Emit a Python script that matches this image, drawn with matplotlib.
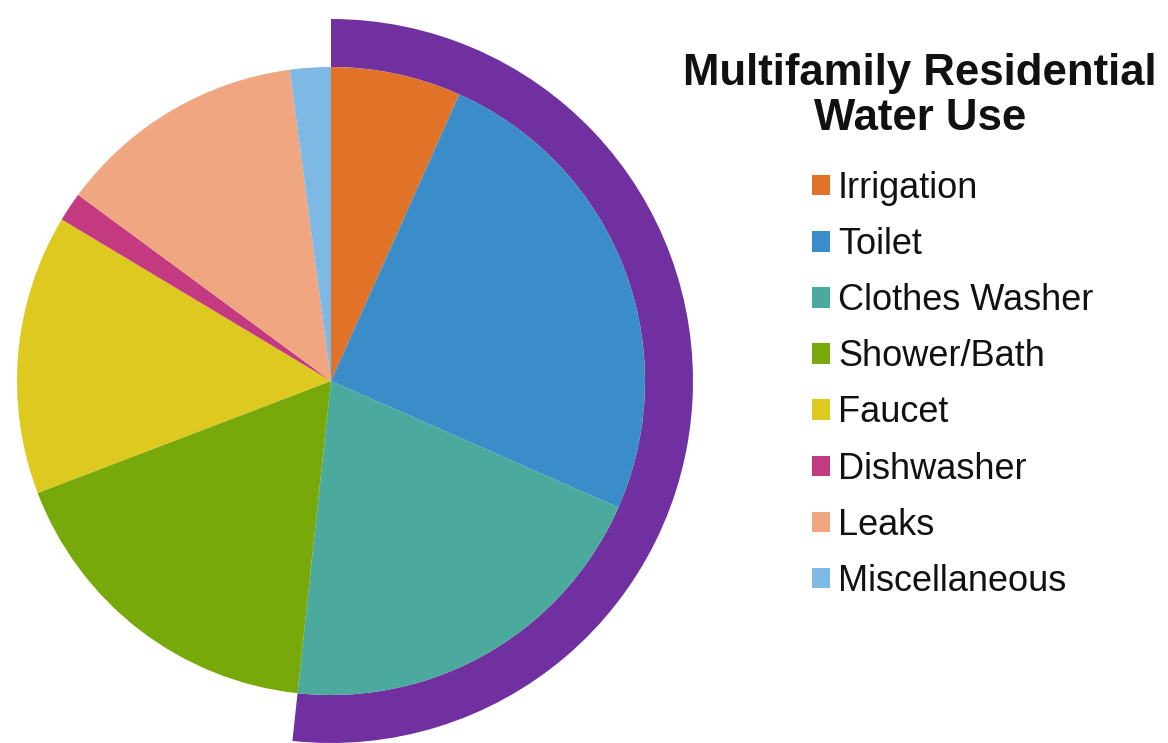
import matplotlib
matplotlib.use("Agg")
import matplotlib.pyplot as plt
from matplotlib.patches import Patch

categories = ["Irrigation", "Toilet", "Clothes Washer", "Shower/Bath",
              "Faucet", "Dishwasher", "Leaks", "Miscellaneous"]
values = [6.7, 24.9, 20.1, 17.5, 14.4, 1.5, 12.8, 2.1]
colors = ["#E07328", "#3A8DC8", "#4BA99E", "#78A90B",
          "#DDC920", "#C33A80", "#F0A680", "#7DB9E4"]
highlight_count = 3  # Irrigation, Toilet, Clothes Washer wrapped by the purple arc
ring_color = "#7130A0"
title = "Multifamily Residential\nWater Use"

W, H = 1168, 743
fig = plt.figure(figsize=(W / 100, H / 100), dpi=100)
ax = fig.add_axes([0, 0, 1, 1])
ax.set_xlim(0, W)
ax.set_ylim(0, H)
ax.set_aspect("equal")
ax.axis("off")

cx, cy = 331, H - 381
r_in, r_out = 314, 362

highlight = sum(values[:highlight_count])
rest = sum(values) - highlight
ax.pie([highlight, rest], center=(cx, cy), radius=r_out, startangle=90,
       counterclock=False, colors=[ring_color, "none"],
       wedgeprops=dict(width=r_out - r_in, linewidth=0))

wedges, _ = ax.pie(values, center=(cx, cy), radius=r_in, startangle=90,
                   counterclock=False, colors=colors,
                   wedgeprops=dict(linewidth=0))
ax.set_xlim(0, W)
ax.set_ylim(0, H)

fig.text(920 / W, 1 - 96 / H, title, ha="center", va="center",
         fontsize=31.5, fontweight="bold", family="Liberation Sans",
         linespacing=1.12, color="#111111")

handles = [Patch(facecolor=c, edgecolor="none") for c in colors]
fig.legend(handles, categories, loc="upper left",
           bbox_to_anchor=(812 / W, 1 - 171 / H), frameon=False,
           prop={"family": "Liberation Sans", "size": 26},
           handlelength=0.5, handleheight=0.5, handletextpad=0.22,
           labelspacing=0.585, borderpad=0, borderaxespad=0,
           labelcolor="#111111")

fig.savefig("out.png", dpi=100)
